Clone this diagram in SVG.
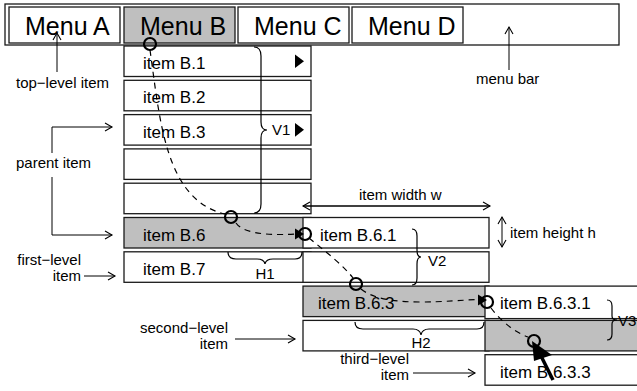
<svg xmlns="http://www.w3.org/2000/svg" width="637" height="391" viewBox="0 0 637 391">
<defs>
<style>
text{font-family:"Liberation Sans",Arial,Helvetica,sans-serif;fill:#000}
.box{fill:#fff;stroke:#1a1a1a;stroke-width:1.3}
.sel{fill:#bfbfbf;stroke:#1a1a1a;stroke-width:1.3}
.menu{font-size:25px}
.item{font-size:17px}
.lbl{font-size:15px}
.ln{fill:none;stroke:#000;stroke-width:1}
.dim{fill:none;stroke:#000;stroke-width:1.6}
.brace{fill:none;stroke:#000;stroke-width:1.2}
.dash{fill:none;stroke:#000;stroke-width:1.2;stroke-dasharray:6 5}
.ring{fill:none;stroke:#000;stroke-width:2.2}
</style>
<marker id="open" markerWidth="12" markerHeight="12" refX="9" refY="5" orient="auto-start-reverse" markerUnits="userSpaceOnUse"><path d="M2,1 L9,5 L2,9" fill="none" stroke="#000" stroke-width="1.1"/></marker>
</defs>

<g id="menubar">
<rect x="5" y="4" width="614" height="41" class="box"/>
</g>
<g id="menuA"><rect x="9" y="7" width="111" height="36" class="box"/><text x="25" y="35" class="menu">Menu A</text></g>
<g id="menuB"><rect x="124" y="7" width="111" height="36" class="sel"/><text x="140" y="35" class="menu">Menu B</text></g>
<g id="menuC"><rect x="238" y="7" width="111" height="36" class="box"/><text x="254" y="35" class="menu">Menu C</text></g>
<g id="menuD"><rect x="352" y="7" width="111" height="36" class="box"/><text x="368" y="35" class="menu">Menu D</text></g>

<g id="itemB1"><rect x="124" y="46" width="187" height="30.5" class="box"/><text x="143" y="69" class="item">item B.1</text><polygon points="295,54.5 304,61.25 295,68"/></g>
<g id="itemB2"><rect x="124" y="80.3" width="187" height="30.5" class="box"/><text x="143" y="103.3" class="item">item B.2</text></g>
<g id="itemB3"><rect x="124" y="114.6" width="187" height="30.5" class="box"/><text x="143" y="137.6" class="item">item B.3</text><polygon points="295,123 304,129.85 295,136.7"/></g>
<g id="itemB4"><rect x="124" y="148.9" width="187" height="30.5" class="box"/></g>
<g id="itemB5"><rect x="124" y="183.2" width="187" height="30.5" class="box"/></g>
<g id="itemB6"><rect x="124" y="217.5" width="187" height="30.5" class="sel"/><text x="143" y="240.5" class="item">item B.6</text></g>
<g id="itemB7"><rect x="124" y="251.8" width="187" height="30.5" class="box"/><text x="143" y="274.8" class="item">item B.7</text></g>

<g id="itemB61"><rect x="303" y="217.5" width="186" height="30.5" class="box"/><text x="320" y="240.5" class="item">item B.6.1</text></g>
<g id="itemB62"><rect x="303" y="251.8" width="186" height="30.5" class="box"/></g>
<g id="itemB63"><rect x="303" y="286.1" width="186" height="30.5" class="sel"/><text x="318" y="309.1" class="item">item B.6.3</text></g>
<g id="itemB64"><rect x="303" y="320.4" width="186" height="30.5" class="box"/></g>

<g id="itemB631"><rect x="485" y="286.1" width="170" height="32.5" class="box"/><text x="500" y="308.5" class="item">item B.6.3.1</text></g>
<g id="itemB632"><rect x="485" y="320.4" width="170" height="30.5" class="sel"/></g>
<g id="itemB633"><rect x="485" y="354.7" width="170" height="30.5" class="box"/><text x="500" y="377.7" class="item">item B.6.3.3</text></g>

<g id="braces">
<path class="brace" d="M254,47 Q261,47 261,56 L261,122 Q261,130 267,130 Q261,130 261,138 L261,204 Q261,213 254,213"/>
<text x="272" y="135" class="lbl">V1</text>
<path class="brace" d="M228,252 Q228,259 236,259 L257,259 Q264,259 265,264 Q266,259 273,259 L295,259 Q302,259 302,252"/>
<text x="265" y="279" class="lbl" text-anchor="middle">H1</text>
<path class="brace" d="M412,229 Q417,229 417,236 L417,250 Q417,257 421,257 Q417,257 417,264 L417,278 Q417,285 412,285"/>
<text x="428" y="266" class="lbl">V2</text>
<path class="brace" d="M355,322 Q355,329 363,329 L413,329 Q420,329 421,335 Q422,329 429,329 L477,329 Q484,329 484,322"/>
<text x="421" y="348" class="lbl" text-anchor="middle">H2</text>
<path class="brace" d="M607,300 Q612,300 612,306 L612,316 Q612,320 617,320 Q612,320 612,324 L612,334 Q612,340 607,340"/>
<text x="618" y="326" class="lbl">V3</text>
</g>

<g id="connectors">
<path class="dash" d="M150,50 C160,120 165,200 225,214"/>
<path class="dash" d="M236,223 C242,232 262,236 296,234"/>
<polygon points="304,234 295,228.5 295,239.5"/>
<path class="dash" d="M309,238 C325,251 344,266 353,278"/>
<path class="dash" d="M361,289 C372,298 392,302 420,302 C445,302 462,300 478,299.5"/>
<polygon points="487,300 478,294.5 478,305.5"/>
<path class="dash" d="M491,308 C500,320 514,332 528,337"/>
<circle cx="150" cy="44" r="6" class="ring"/>
<circle cx="231" cy="217" r="6" class="ring"/>
<circle cx="305" cy="234" r="6" class="ring"/>
<circle cx="356" cy="284" r="6" class="ring"/>
<circle cx="487" cy="302" r="6" class="ring"/>
<circle cx="534" cy="341" r="6" class="ring"/>
<line x1="57" y1="72" x2="57" y2="33" class="ln" marker-end="url(#open)"/>
<line x1="509" y1="70" x2="509" y2="27" class="ln" marker-end="url(#open)"/>
<path d="M52,153 L52,127 L112,127" class="ln" marker-end="url(#open)"/>
<path d="M52,177 L52,235 L112,235" class="ln" marker-end="url(#open)"/>
<line x1="84" y1="276" x2="115" y2="276" class="ln" marker-end="url(#open)"/>
<line x1="235" y1="339" x2="295" y2="339" class="ln" marker-end="url(#open)"/>
<line x1="413" y1="373" x2="475" y2="373" class="ln" marker-end="url(#open)"/>
<line x1="303" y1="206" x2="490" y2="206" class="dim" marker-start="url(#open)" marker-end="url(#open)"/>
<line x1="502" y1="217" x2="502" y2="247" class="ln" marker-start="url(#open)" marker-end="url(#open)"/>
<polygon points="532,341 534,361 552,355"/>
<line x1="541" y1="356" x2="553" y2="380" stroke="#000" stroke-width="3.5"/>
</g>

<g id="labels">
<text x="16" y="88" class="lbl">top−level item</text>
<text x="476" y="84" class="lbl">menu bar</text>
<text x="16" y="168" class="lbl">parent item</text>
<text x="81" y="265" class="lbl" text-anchor="end">first−level</text>
<text x="81" y="281" class="lbl" text-anchor="end">item</text>
<text x="228" y="333" class="lbl" text-anchor="end">second−level</text>
<text x="228" y="349" class="lbl" text-anchor="end">item</text>
<text x="409" y="364" class="lbl" text-anchor="end">third−level</text>
<text x="409" y="380" class="lbl" text-anchor="end">item</text>
<text x="359" y="200" class="lbl">item width w</text>
<text x="510" y="238" class="lbl">item height h</text>
</g>
</svg>
